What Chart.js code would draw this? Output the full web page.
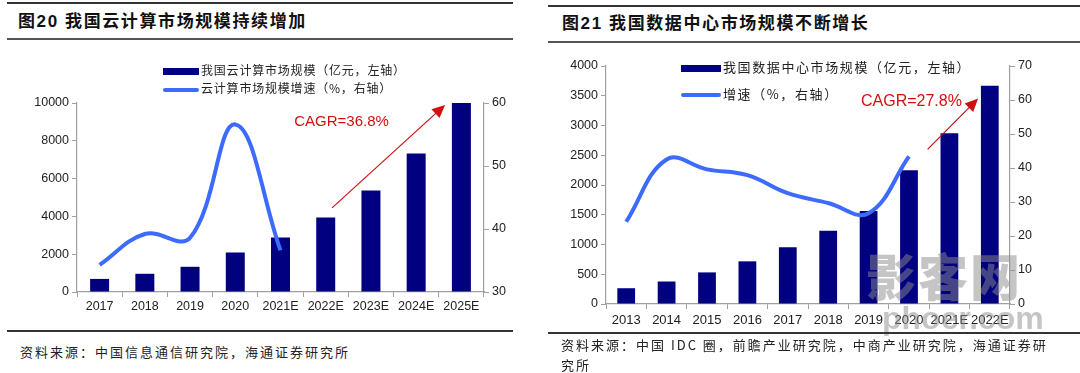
<!DOCTYPE html>
<html>
<head>
<meta charset="utf-8">
<script src="https://cdn.jsdelivr.net/npm/chart.js@4.4.0/dist/chart.umd.min.js"></script>
<style>
    body { margin: 0; width: 1080px; height: 373px; background: #fff; position: relative; overflow: hidden; font-family: "Liberation Sans", Arial, sans-serif; }
    .hline { position: absolute; height: 2px; background: #333; }
    .title { position: absolute; font-family: "Liberation Sans", "Noto Sans CJK SC", sans-serif; font-weight: bold; font-size: 17px; letter-spacing: 1.6px; color: #111; line-height: 20px; white-space: nowrap; }
    .legend { position: absolute; font-family: "Noto Sans CJK SC", sans-serif; font-size: 12px; letter-spacing: 0.8px; color: #222; line-height: 16px; white-space: nowrap; }
    .legend .box { display: inline-block; width: 36px; height: 7px; background: #000080; vertical-align: middle; margin-right: 2px; }
    .legend .ln { display: inline-block; width: 36px; height: 4px; border-radius: 2px; background: #3d6bff; vertical-align: middle; margin-right: 2px; }
    .source { position: absolute; font-family: "Noto Sans CJK SC", sans-serif; font-size: 13px; letter-spacing: 2px; color: #222; line-height: 20px; }
    canvas { position: absolute; }
    .wm { position: absolute; font-family: "Noto Sans CJK SC", sans-serif; font-weight: 900; color: rgba(140,140,140,0.5); white-space: nowrap; }
</style>
</head>
<body>

<div class="hline" style="left:7px;top:2px;width:506px;"></div>
<div class="title" style="left:18px;top:12px;">图20 我国云计算市场规模持续增加</div>
<div class="hline" style="left:7px;top:38px;width:506px;background:#555;"></div>

<div class="hline" style="left:548px;top:5px;width:532px;"></div>
<div class="title" style="left:562px;top:14px;">图21 我国数据中心市场规模不断增长</div>
<div class="hline" style="left:548px;top:41px;width:532px;background:#555;"></div>

<canvas id="cloudChart" width="540" height="278" style="left:0;top:50px;"></canvas>
<canvas id="idcChart" width="540" height="284" style="left:540px;top:42px;"></canvas>

<div class="legend" style="left:163px;top:62px;"><span class="box"></span>我国云计算市场规模（亿元，左轴）</div>
<div class="legend" style="left:163px;top:80px;"><span class="ln"></span>云计算市场规模增速（%，右轴）</div>

<div class="legend" style="left:681px;top:59px;font-size:13px;letter-spacing:1.6px;"><span class="box" style="width:40px;"></span>我国数据中心市场规模（亿元，左轴）</div>
<div class="legend" style="left:681px;top:86px;font-size:13px;letter-spacing:1.6px;"><span class="ln" style="width:40px;"></span>增速（%，右轴）</div>

<div class="wm" style="left:866px;top:238px;font-size:50px;letter-spacing:2px;">影客网</div>
<div class="wm" style="left:882px;top:300px;font-size:32px;font-family:'Liberation Sans',sans-serif;">phoer.com</div>

<div class="hline" style="left:7px;top:330px;width:506px;height:1.5px;"></div>
<div class="source" style="left:20px;top:342px;">资料来源：中国信息通信研究院，海通证券研究所</div>

<div class="hline" style="left:548px;top:332px;width:532px;height:1.5px;"></div>
<div class="source" style="left:561px;top:335px;width:500px;">资料来源：中国 IDC 圈，前瞻产业研究院，中商产业研究院，海通证券研究所</div>

<script>
// Cloud computing market (left chart)
const cloudYears = ['2017', '2018', '2019', '2020', '2021E', '2022E', '2023E', '2024E', '2025E'];
const cloudSize = [692, 963, 1334, 2091, 2880, 3940, 5370, 7330, 10000];
const cloudGrowth = [34.3, 39.2, 38.6, 56.6, 36.6, null, null, null, null];
const cloudLeftTicks = [0, 2000, 4000, 6000, 8000, 10000];
const cloudRightTicks = [30, 40, 50, 60];

// Data center market (right chart)
const idcYears = ['2013', '2014', '2015', '2016', '2017', '2018', '2019', '2020', '2021E', '2022E'];
const idcSize = [265, 378, 531, 717, 955, 1232, 1562, 2249, 2870, 3667];
const idcGrowth = [24.2, 42.5, 39.6, 37.9, 32.6, 29.7, 26.7, 43.4, null, null];
const idcLeftTicks = [0, 500, 1000, 1500, 2000, 2500, 3000, 3500, 4000];
const idcRightTicks = [0, 10, 20, 30, 40, 50, 60, 70];

const BAR_COLOR = '#000080';
const LINE_COLOR = '#3d6bff';
const AXIS_COLOR = '#a0a0a0';
const RED = '#d01010';

// CAGR arrow + label, positioned in data space (category index, left-axis value)
const cagrPlugin = {
    id: 'cagr',
    afterDatasetsDraw(chart, args, opts) {
        const x = chart.scales.x, y = chart.scales.y;
        const ctx = chart.ctx;
        const x0 = x.getPixelForValue(opts.from[0]), y0 = y.getPixelForValue(opts.from[1]);
        const x1 = x.getPixelForValue(opts.to[0]), y1 = y.getPixelForValue(opts.to[1]);
        const ang = Math.atan2(y1 - y0, x1 - x0);
        const head = 13;
        ctx.save();
        ctx.strokeStyle = RED;
        ctx.fillStyle = RED;
        ctx.lineWidth = 1.2;
        ctx.beginPath();
        ctx.moveTo(x0, y0);
        ctx.lineTo(x1 - head * 0.8 * Math.cos(ang), y1 - head * 0.8 * Math.sin(ang));
        ctx.stroke();
        ctx.beginPath();
        ctx.moveTo(x1, y1);
        ctx.lineTo(x1 - head * Math.cos(ang) + 6 * Math.sin(ang), y1 - head * Math.sin(ang) - 6 * Math.cos(ang));
        ctx.lineTo(x1 - head * Math.cos(ang) - 6 * Math.sin(ang), y1 - head * Math.sin(ang) + 6 * Math.cos(ang));
        ctx.closePath();
        ctx.fill();
        ctx.font = opts.fontSize + 'px "Liberation Sans", Arial, sans-serif';
        ctx.textAlign = 'center';
        ctx.textBaseline = 'middle';
        ctx.fillText(opts.text, x.getPixelForValue(opts.label[0]), y.getPixelForValue(opts.label[1]));
        ctx.restore();
    }
};

function axisSide(position, min, max, ticks, width) {
    return {
        position: position,
        min: min,
        max: max,
        afterBuildTicks: s => { s.ticks = ticks.map(v => ({ value: v })); },
        afterFit: s => { s.width = width; },
        ticks: {
            color: '#222',
            font: { family: '"Liberation Sans", Arial, sans-serif', size: 12.5 },
            padding: 3,
            callback: v => String(v)
        },
        grid: { drawOnChartArea: false, drawTicks: true, tickLength: 5, color: AXIS_COLOR },
        border: { color: AXIS_COLOR, width: 1.2 }
    };
}

function makeChart(canvasId, cfg) {
    const ctx = document.getElementById(canvasId).getContext('2d');
    return new Chart(ctx, {
        data: {
            labels: cfg.labels,
            datasets: [{
                type: 'line',
                label: 'growth',
                data: cfg.growth,
                yAxisID: 'y1',
                borderColor: LINE_COLOR,
                borderWidth: 4,
                pointRadius: 0,
                tension: 0.4,
                spanGaps: false,
                order: 0
            }, {
                type: 'bar',
                label: 'size',
                data: cfg.size,
                yAxisID: 'y',
                backgroundColor: BAR_COLOR,
                categoryPercentage: 1,
                barPercentage: cfg.barPct,
                order: 1
            }]
        },
        options: {
            responsive: false,
            animation: false,
            layout: { padding: { top: cfg.padTop, left: 0, right: 0, bottom: 0 } },
            plugins: {
                legend: { display: false },
                tooltip: { enabled: false },
                cagr: cfg.cagr
            },
            scales: {
                x: {
                    offset: true,
                    afterFit: s => { s.height = cfg.xHeight; },
                    ticks: {
                        color: '#222',
                        font: { family: '"Liberation Sans", Arial, sans-serif', size: cfg.xFont },
                        padding: cfg.xPad,
                        maxRotation: 0,
                        autoSkip: false
                    },
                    grid: { offset: true, drawOnChartArea: false, drawTicks: true, tickLength: 5, color: AXIS_COLOR },
                    border: { color: AXIS_COLOR, width: 1.2 }
                },
                y: axisSide('left', cfg.leftMin, cfg.leftMax, cfg.leftTicks, cfg.leftWidth),
                y1: axisSide('right', cfg.rightMin, cfg.rightMax, cfg.rightTicks, cfg.rightWidth)
            }
        },
        plugins: [cagrPlugin]
    });
}

makeChart('cloudChart', {
    labels: cloudYears,
    size: cloudSize,
    growth: cloudGrowth,
    barPct: 0.42,
    padTop: 53,
    xHeight: 36,
    xFont: 12.5,
    xPad: 2,
    leftMin: 0, leftMax: 10000, leftTicks: cloudLeftTicks, leftWidth: 77,
    rightMin: 30, rightMax: 60, rightTicks: cloudRightTicks, rightWidth: 56,
    cagr: { text: 'CAGR=36.8%', fontSize: 15, label: [5.35, 9000], from: [5.14, 4450], to: [7.64, 9900] }
});

makeChart('idcChart', {
    labels: idcYears,
    size: idcSize,
    growth: idcGrowth,
    barPct: 0.44,
    padTop: 24,
    xHeight: 22,
    xFont: 13,
    xPad: 4,
    leftMin: 0, leftMax: 4000, leftTicks: idcLeftTicks, leftWidth: 66,
    rightMin: 0, rightMax: 70, rightTicks: idcRightTicks, rightWidth: 70,
    cagr: { text: 'CAGR=27.8%', fontSize: 16, label: [7.06, 3400], from: [7.46, 2600], to: [8.71, 3455] }
});
</script>
</body>
</html>
